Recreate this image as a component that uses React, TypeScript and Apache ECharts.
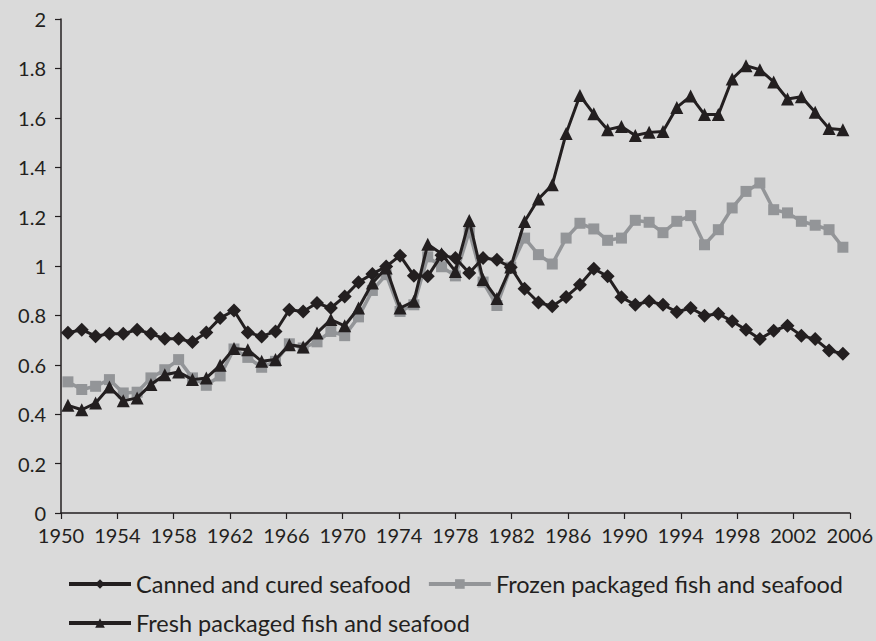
import React, { useEffect, useRef } from "react";
import * as echarts from "echarts";

const years: string[] = Array.from({ length: 57 }, (_, i) => String(1950 + i));

const canned = [
  0.73, 0.742, 0.716, 0.726, 0.726, 0.742, 0.726, 0.705, 0.705, 0.692,
  0.731, 0.789, 0.82, 0.731, 0.715, 0.735, 0.823, 0.816, 0.85, 0.83,
  0.877, 0.934, 0.968, 0.998, 1.042, 0.961, 0.958, 1.044, 1.032, 0.972,
  1.032, 1.025, 0.995, 0.908, 0.852, 0.837, 0.875, 0.924, 0.989, 0.958,
  0.873, 0.843, 0.857, 0.843, 0.814, 0.83, 0.799, 0.807, 0.776, 0.742,
  0.704, 0.738, 0.758, 0.718, 0.704, 0.658, 0.645,
];

const frozen = [
  0.531, 0.5, 0.513, 0.54, 0.486, 0.489, 0.547, 0.58, 0.621, 0.547,
  0.517, 0.555, 0.664, 0.63, 0.59, 0.614, 0.685, 0.668, 0.693, 0.735,
  0.718, 0.794, 0.901, 0.965, 0.816, 0.843, 1.037, 0.997, 0.96, 1.14,
  0.935, 0.84, 0.995, 1.113, 1.046, 1.008, 1.113, 1.173, 1.15, 1.104,
  1.113, 1.185, 1.177, 1.135, 1.181, 1.204, 1.086, 1.147, 1.235, 1.302,
  1.336, 1.228, 1.215, 1.181, 1.165, 1.147, 1.076,
];

const fresh = [
  0.436, 0.418, 0.445, 0.51, 0.454, 0.466, 0.52, 0.56, 0.571, 0.54,
  0.547, 0.598, 0.666, 0.661, 0.614, 0.621, 0.681, 0.672, 0.729, 0.783,
  0.758, 0.83, 0.931, 0.992, 0.83, 0.857, 1.088, 1.05, 0.978, 1.184,
  0.945, 0.868, 0.996, 1.18, 1.271, 1.329, 1.536, 1.69, 1.616, 1.552,
  1.565, 1.528, 1.541, 1.545, 1.642, 1.688, 1.613, 1.613, 1.757, 1.811,
  1.795, 1.745, 1.676, 1.685, 1.622, 1.557, 1.552,
];

const seriesNames = [
  "Canned and cured seafood",
  "Frozen packaged fish and seafood",
  "Fresh packaged fish and seafood",
];

const INK = "#231f20";
const GRAY = "#939598";
const FONT = "Lato";

export default function App() {
  const ref = useRef<HTMLDivElement>(null);

  useEffect(() => {
    if (!ref.current) return;
    const chart = echarts.init(ref.current, null, { renderer: "svg" });
    const legendText = { fontFamily: FONT, fontSize: 23.5, color: INK };
    const legendCommon = {
      itemWidth: 62,
      itemHeight: 12,
      itemGap: 16,
      textStyle: legendText,
      lineStyle: { width: 4 },
    };
    chart.setOption({
      animation: false,
      backgroundColor: "#dadada",
      textStyle: { fontFamily: FONT, color: INK },
      grid: { left: 61, right: 25, top: 19, bottom: 128, containLabel: false },
      legend: [
        {
          ...legendCommon,
          data: [seriesNames[0], seriesNames[1]],
          left: 62,
          top: 567,
        },
        {
          ...legendCommon,
          data: [seriesNames[2]],
          left: 62,
          top: 606,
        },
      ],
      xAxis: [
        {
          type: "category",
          data: years,
          boundaryGap: true,
          show: false,
        },
        {
          type: "value",
          min: 1950,
          max: 2006,
          interval: 4,
          position: "bottom",
          axisLine: { show: true, lineStyle: { color: INK, width: 1.5 } },
          axisTick: { show: true, length: 6, lineStyle: { color: INK, width: 1.2 } },
          axisLabel: {
            margin: 12,
            fontFamily: FONT,
            fontSize: 20,
            color: INK,
            formatter: (v: number) => String(v),
          },
          splitLine: { show: false },
        },
      ],
      yAxis: {
        type: "value",
        min: 0,
        max: 2,
        interval: 0.2,
        axisLine: { show: true, lineStyle: { color: INK, width: 1.5 } },
        axisTick: { show: true, length: 6, lineStyle: { color: INK, width: 1.2 } },
        axisLabel: { margin: 15, fontFamily: FONT, fontSize: 20, color: INK },
        splitLine: { show: false },
      },
      series: [
        {
          name: seriesNames[0],
          type: "line",
          xAxisIndex: 0,
          data: canned,
          symbol: "diamond",
          symbolSize: 14,
          showAllSymbol: true,
          itemStyle: { color: INK },
          lineStyle: { color: INK, width: 3 },
          z: 3,
        },
        {
          name: seriesNames[1],
          type: "line",
          xAxisIndex: 0,
          data: frozen,
          symbol: "rect",
          symbolSize: 11,
          showAllSymbol: true,
          itemStyle: { color: GRAY },
          lineStyle: { color: GRAY, width: 3.5 },
          z: 2,
        },
        {
          name: seriesNames[2],
          type: "line",
          xAxisIndex: 0,
          data: fresh,
          symbol: "triangle",
          symbolSize: 13,
          showAllSymbol: true,
          itemStyle: { color: INK },
          lineStyle: { color: INK, width: 3 },
          z: 4,
        },
      ],
    });
    return () => chart.dispose();
  }, []);

  return (
    <div
      ref={ref}
      style={{ position: "fixed", left: 0, top: 0, width: 876, height: 641, background: "#dadada" }}
    />
  );
}
